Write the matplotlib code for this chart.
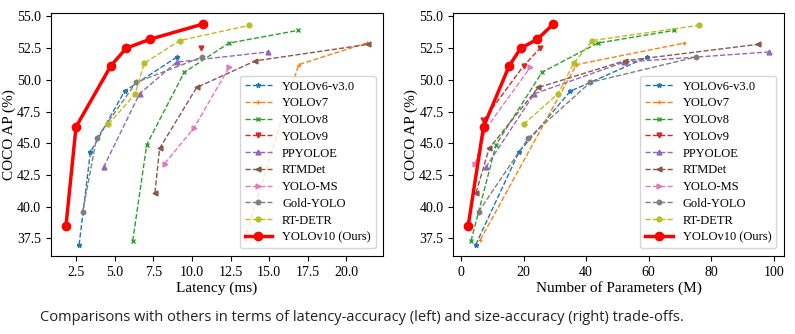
import matplotlib.pyplot as plt
from matplotlib.ticker import MultipleLocator

plt.rcParams['font.family'] = ['Liberation Serif', 'DejaVu Serif']

names = ['YOLOv6-v3.0', 'YOLOv7', 'YOLOv8', 'YOLOv9', 'PPYOLOE',
         'RTMDet', 'YOLO-MS', 'Gold-YOLO', 'RT-DETR']

# latency (ms)
lat_v6 = [2.69, 3.42, 5.63, 9.02]
lat_v7 = [13.4, 16.9, 21.3]
lat_v8 = [6.16, 7.07, 9.50, 12.39, 16.86]
lat_v9 = [10.57]
lat_pp = [4.27, 6.6, 9.0, 14.9]
lat_rtm = [7.6, 7.9, 10.3, 14.1, 21.4]
lat_ms = [8.23, 10.12, 12.41]
lat_gold = [2.92, 3.82, 6.38, 10.65]
lat_detr = [4.58, 6.32, 6.90, 9.20, 13.71]
lat_v10 = [1.84, 2.49, 4.74, 5.74, 7.28, 10.70]

# params (M)
par_v6 = [4.7, 18.5, 34.9, 59.6]
par_v7 = [6.2, 36.9, 71.3]
par_v8 = [3.2, 11.2, 25.9, 43.7, 68.2]
par_v9 = [7.1, 20.0, 25.3]
par_pp = [7.9, 23.4, 52.2, 98.4]
par_rtm = [4.8, 9.0, 24.7, 52.3, 94.9]
par_ms = [4.5, 8.1, 22.2]
par_gold = [5.6, 21.5, 41.3, 75.1]
par_detr = [20.0, 31.0, 36.0, 42.0, 76.0]
par_v10 = [2.3, 7.2, 15.4, 19.1, 24.4, 29.5]

# COCO AP
ap_v6 = [37.0, 44.3, 49.1, 51.8]
ap_v7 = [37.4, 51.2, 52.9]
ap_v8 = [37.3, 44.9, 50.6, 52.9, 53.9]
ap_v9_lat = [52.5]
ap_v9 = [46.8, 51.1, 52.5]
ap_pp = [43.1, 48.9, 51.4, 52.2]
ap_rtm = [41.1, 44.6, 49.4, 51.5, 52.8]
ap_ms = [43.4, 46.2, 51.0]
ap_gold = [39.6, 45.4, 49.8, 51.8]
ap_detr = [46.5, 48.9, 51.3, 53.1, 54.3]
ap_v10 = [38.5, 46.3, 51.1, 52.5, 53.2, 54.4]

markers = ['*', '+', 'x', 'v', '^', '<', '>', 'h', 'o']

lat_all = [lat_v6, lat_v7, lat_v8, lat_v9, lat_pp, lat_rtm, lat_ms, lat_gold, lat_detr]
par_all = [par_v6, par_v7, par_v8, par_v9, par_pp, par_rtm, par_ms, par_gold, par_detr]
ap_lat = [ap_v6, ap_v7, ap_v8, ap_v9_lat, ap_pp, ap_rtm, ap_ms, ap_gold, ap_detr]
ap_par = [ap_v6, ap_v7, ap_v8, ap_v9, ap_pp, ap_rtm, ap_ms, ap_gold, ap_detr]

fig = plt.figure(figsize=(7.95, 3.34), dpi=100)
ax1 = fig.add_axes([0.064, 0.234, 0.418, 0.727])
ax2 = fig.add_axes([0.570, 0.234, 0.416, 0.727])

for i in range(len(names)):
    c = 'C' + str(i)
    ax1.plot(lat_all[i], ap_lat[i], '--', color=c, marker=markers[i],
             markersize=3.5, linewidth=1, label=names[i])
    ax2.plot(par_all[i], ap_par[i], '--', color=c, marker=markers[i],
             markersize=3.5, linewidth=1, label=names[i])

ax1.plot(lat_v10, ap_v10, '-', color='red', marker='o', markersize=6,
         linewidth=2.5, label='YOLOv10 (Ours)')
ax2.plot(par_v10, ap_v10, '-', color='red', marker='o', markersize=6,
         linewidth=2.5, label='YOLOv10 (Ours)')

ax1.xaxis.set_major_locator(MultipleLocator(2.5))
ax1.set_xlabel('Latency (ms)', fontsize=11, labelpad=2)
ax2.set_xlabel('Number of Parameters (M)', fontsize=11, labelpad=2)
for ax in (ax1, ax2):
    ax.set_ylabel('COCO AP (%)', fontsize=11, labelpad=1)
    ax.tick_params(labelsize=10)
    ax.legend(loc='lower right', fontsize=9, handlelength=2.2,
              labelspacing=0.38, borderaxespad=0.6)

fig.text(0.05, 0.048, 'Comparisons with others in terms of latency-accuracy (left) '
         'and size-accuracy (right) trade-offs.', va='center',
         family=['Open Sans', 'DejaVu Sans'], fontsize=10.5, color='#222222')

plt.savefig('out.png', dpi=100)
